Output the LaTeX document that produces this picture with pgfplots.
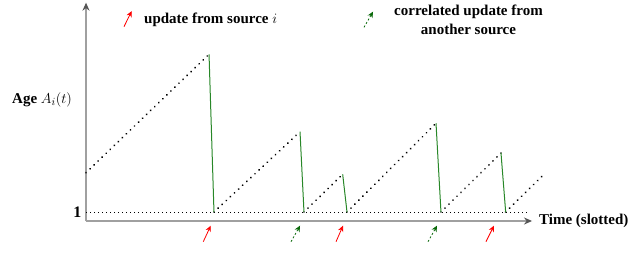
\documentclass[border=0pt]{standalone}
\usepackage{fontspec}
\setmainfont{Liberation Serif}
\usepackage{pgfplots}
\pgfplotsset{compat=1.18}
\usetikzlibrary{arrows.meta}
\definecolor{gline}{RGB}{40,135,40}
\definecolor{garrow}{RGB}{10,105,10}
\definecolor{axgray}{RGB}{160,160,160}
\definecolor{axhead}{RGB}{85,85,85}
\begin{document}
\begin{tikzpicture}
\begin{axis}[
  x=9pt, y=9pt,
  xmin=0, xmax=49.56, ymin=0, ymax=24.26,
  axis lines=left,
  axis line style={draw=axgray, line width=1.4pt, -{Stealth[length=8pt,width=7pt,color=axhead]}},
  xtick=\empty, ytick={1}, yticklabels={\textbf{1}},
  major tick length=0pt,
  yticklabel style={font=\fontsize{16}{18}\selectfont, xshift=-1pt},
  clip=false,
  empty line=jump,
]
% level 1 reference
\addplot[black, line width=0.9pt, dash pattern=on 0.8pt off 3.2pt] coordinates {(0,1) (49.1,1)};
% age growth (dotted)
\addplot[black, line width=2pt, line cap=round, dash pattern=on 0.01pt off 5.6pt] table {
x y
0 5.37
13.67 18.52

14.22 1
23.78 9.92

24.22 1
28.52 5.19

29 1
38.89 10.86

39.44 1
46.11 7.56

46.63 1
50.81 5.11
};
% drops (solid green)
\addplot[gline, line width=1pt] table {
x y
13.67 18.52
14.22 1

23.78 9.92
24.22 1

28.52 5.19
29 1

38.89 10.86
39.44 1

46.11 7.56
46.63 1
};
% bottom arrows
\addplot[red, line width=0.8pt, -{Stealth[length=6pt,width=5.5pt]}] coordinates {(13.03,-2.3) (13.86,-0.52)};
\addplot[garrow, line width=0.8pt, dash pattern=on 2pt off 2pt, -{Stealth[length=6pt,width=5.5pt]}] coordinates {(22.78,-2.3) (23.78,-0.52)};
\addplot[red, line width=0.8pt, -{Stealth[length=6pt,width=5.5pt]}] coordinates {(27.78,-2.3) (28.56,-0.52)};
\addplot[garrow, line width=0.8pt, dash pattern=on 2pt off 2pt, -{Stealth[length=6pt,width=5.5pt]}] coordinates {(38.0,-2.3) (39.0,-0.52)};
\addplot[red, line width=0.8pt, -{Stealth[length=6pt,width=5.5pt]}] coordinates {(44.44,-2.3) (45.33,-0.52)};
% legend arrows
\addplot[red, line width=0.8pt, -{Stealth[length=6pt,width=5.5pt]}] coordinates {(4.22,21.59) (5.08,23.33)};
\addplot[garrow, line width=0.8pt, dash pattern=on 2pt off 2pt, -{Stealth[length=6pt,width=5.5pt]}] coordinates {(30.89,21.52) (31.89,23.26)};
% texts
\node[anchor=west, inner sep=0pt, font=\fontsize{15}{19}\selectfont\bfseries] at (axis cs:6.44,22.33) {update from source $i$};
\node[align=center, inner sep=0pt, font=\fontsize{15}{19}\selectfont\bfseries] at (axis cs:42.5,22.39) {correlated update from\\another source};
\node[anchor=east, inner sep=0pt, font=\fontsize{15}{19}\selectfont\bfseries] at (axis cs:-1.55,13.44) {Age $A_i(t)$};
\node[anchor=west, inner sep=0pt, font=\fontsize{15}{19}\selectfont\bfseries] at (axis cs:50.33,0) {Time (slotted)};
\coordinate (bbl) at (axis cs:-9.556,-3.444);
\coordinate (btr) at (axis cs:60.333,24.556);
\end{axis}
\pgfresetboundingbox
\path (bbl) rectangle (btr);
\end{tikzpicture}
\end{document}
